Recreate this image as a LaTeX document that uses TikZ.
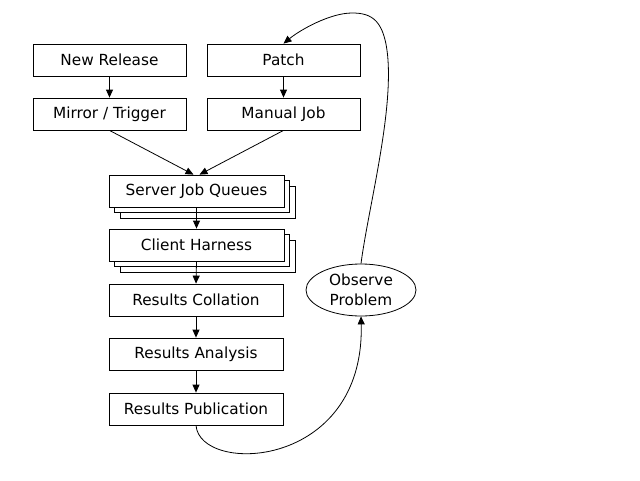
\documentclass[tikz,border=0pt]{standalone}
\usepackage{fontspec}
\setmainfont{DejaVu Sans}
\usetikzlibrary{shapes.geometric,shadows,arrows.meta}
\begin{document}
\begin{tikzpicture}[x=1pt,y=-1pt,
  every node/.style={font=\fontsize{15.3}{20}\selectfont},
  box/.style={draw=black, line width=0.8pt, fill=white, minimum height=32pt, inner sep=0pt},
  topbox/.style={box, minimum width=153pt},
  lowbox/.style={box, minimum width=174pt},
  stackbox/.style={lowbox, minimum width=175pt,
    double copy shadow={shadow xshift=5.5pt, shadow yshift=-5.5pt, fill=white, draw=black, line width=0.8pt}},
  oval/.style={draw=black, line width=0.8pt, ellipse, minimum width=110pt, minimum height=52pt, inner sep=0pt, align=center},
  arr/.style={-{Triangle[length=8pt,width=7pt]}, line width=0.8pt, draw=black}]
\useasboundingbox (0,0) rectangle (640,480);
\node[topbox] (newrel) at (109.5,60) {New Release};
\node[topbox] (patch) at (283.5,60) {Patch};
\node[topbox] (mirror) at (109.5,114) {Mirror / Trigger};
\node[topbox] (manual) at (283.5,114) {Manual Job};
\node[stackbox] (sjq) at (196.5,191) {Server Job Queues};
\node[stackbox] (client) at (196.5,245) {Client Harness};
\node[lowbox] (coll) at (196,300) {Results Collation};
\node[lowbox] (anal) at (196,354) {Results Analysis};
\node[lowbox] (pub) at (196,409) {Results Publication};
\node[oval] (obs) at (361,290) {Observe\\Problem};

\draw[arr] (newrel) -- (mirror);
\draw[arr] (patch) -- (manual);
\draw[arr] (mirror.south) -- ([xshift=-3pt]sjq.north);
\draw[arr] (manual.south) -- ([xshift=3pt]sjq.north);
\draw[arr] (sjq.south) -- (client.north);
\draw[arr] (client.south) -- (coll.north);
\draw[arr] (coll) -- (anal);
\draw[arr] (anal) -- (pub);
\draw[arr] (pub.south) .. controls (200,475) and (365,470) .. (obs.south);
\draw[arr] (obs.north) .. controls (368,210) and (392,120) .. (388,60)
  .. controls (385,20) and (372,13) .. (352,13)
  .. controls (330,13) and (300,30) .. (patch.north);
\end{tikzpicture}
\end{document}
